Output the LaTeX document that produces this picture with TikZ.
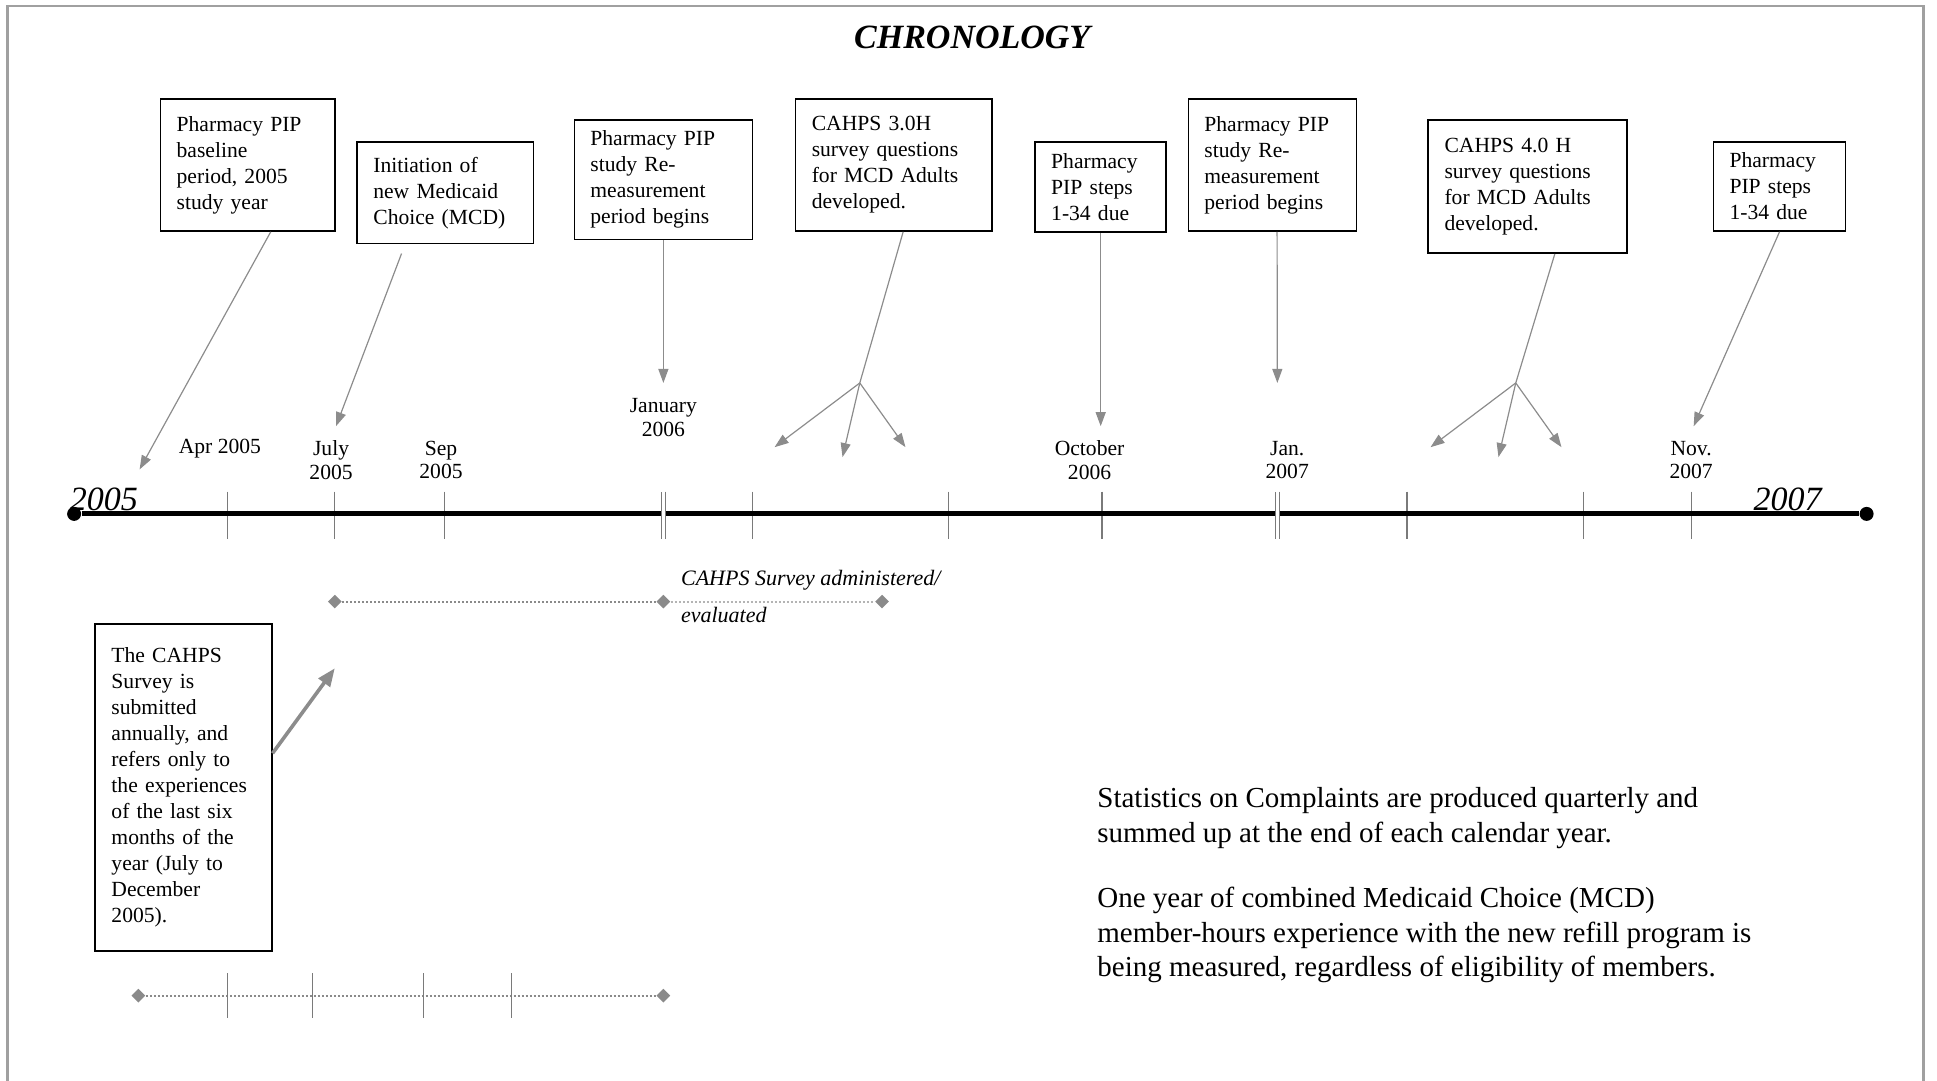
\documentclass[tikz,border=0pt]{standalone}
\usepackage{fontspec}
\setmainfont{Liberation Serif}
\usetikzlibrary{arrows.meta,shapes.geometric}
\definecolor{arw}{HTML}{8C8C8C}
\definecolor{tkc}{HTML}{7A7A7A}
\definecolor{dgray}{HTML}{8A8A8A}
\definecolor{lgray}{HTML}{B4B4B4}
\definecolor{bd}{HTML}{A0A0A0}

\begin{document}
\begin{tikzpicture}[x=0.6177pt, y=-0.6177pt,
    ev/.style={draw, rectangle, line width=0.8pt, align=left, inner xsep=8pt, font=\fontsize{10.8}{13}\selectfont},
    lbl/.style={align=center, inner sep=0pt, font=\fontsize{10.8}{11.7}\selectfont},
    yr/.style={inner sep=0pt, font=\fontsize{17}{17}\selectfont\itshape},
    dot/.style={circle, fill=black, inner sep=0pt, minimum size=7pt},
    dm/.style={diamond, fill=dgray, inner sep=0pt, minimum size=7pt},
    n/.style={-{Triangle[length=7pt, width=5pt]}, line width=0.6pt, draw=arw},
    ln/.style={line width=0.6pt, draw=arw},
    tk/.style={line width=0.6pt, draw=tkc},
    d/.style={densely dotted, line width=1pt, draw=dgray}]
    \useasboundingbox (0,0) rectangle (1568,875);
    \draw[bd, line width=1.2pt] (6,875) -- (6,5) -- (1557,5) -- (1557,875);
    % title
    \node[font=\fontsize{17}{17}\selectfont\bfseries\itshape] (title) at (787,30) {CHRONOLOGY};
    % boxes
    \node[ev, minimum width=87.1pt, minimum height=66.1pt, text width=71pt] (b1) at (200.5,133.5) {Pharmacy PIP\\baseline\\period, 2005\\study year};
    \node[ev, minimum width=88.3pt, minimum height=50.7pt, text width=72pt] (b2) at (360.5,156) {Initiation of\\new Medicaid\\Choice (MCD)};
    \node[ev, minimum width=88.9pt, minimum height=59.9pt, text width=73pt] (b3) at (537,145.5) {Pharmacy PIP\\study Re-\\measurement\\period begins};
    \node[ev, minimum width=98.2pt, minimum height=66.1pt, text width=82pt] (b4) at (723.5,133.5) {CAHPS 3.0H\\survey questions\\for MCD Adults\\developed.};
    \node[ev, minimum width=65.5pt, minimum height=45.1pt, text width=49.5pt] (b5) at (891,151.5) {Pharmacy\\PIP steps\\1-34 due};
    \node[ev, minimum width=84pt, minimum height=66.1pt, text width=68pt] (b6) at (1030,133.5) {Pharmacy PIP\\study Re-\\measurement\\period begins};
    \node[ev, minimum width=99.4pt, minimum height=66.7pt, text width=83pt] (b7) at (1236.5,151) {CAHPS 4.0 H\\survey questions\\for MCD Adults\\developed.};
    \node[ev, minimum width=66.1pt, minimum height=44.5pt, text width=50pt] (b8) at (1440.5,151) {Pharmacy\\PIP steps\\1-34 due};
    \node[ev, minimum width=88.3pt, minimum height=163.7pt, text width=72pt] (b9) at (148.5,637.5) {The CAHPS\\Survey is\\submitted\\annually, and\\refers only to\\the experiences\\of the last six\\months of the\\year (July to\\December\\2005).};
    % dates
    \node[lbl] (apr) at (178,363) {Apr 2005};
    \node[lbl] (jul) at (268,372.5) {July\\2005};
    \node[lbl] (sep) at (357,372.5) {Sep\\2005};
    \node[lbl] (jan6) at (537,338) {January\\2006};
    \node[lbl] (oct) at (882,372.5) {October\\2006};
    \node[lbl] (jan7) at (1042,372.5) {Jan.\\2007};
    \node[lbl] (nov) at (1369,372.5) {Nov.\\2007};
    % axis
    \foreach \t in {184,271,360,609,768,892,1139,1282,1369}
        \draw[tk] (\t,398) -- (\t,436);
    \node[dot] (L) at (60,416) {};
    \node[dot] (R) at (1511,416) {};
    \draw[line width=2.6pt] (L) -- (R);
    \foreach \t in {537,1034}
        \draw[tk, double, double distance=1.2pt] (\t,398) -- (\t,436);
    \node[yr] (y5) at (84,404) {2005};
    \node[yr] (y7) at (1447,404) {2007};
    % arrow ends
    \coordinate (e1) at (113,380);
    \coordinate (e2) at (272,345);
    \coordinate (e3) at (537,310);
    \coordinate (h4) at (696,310);
    \coordinate (e41) at (627,362);
    \coordinate (e42) at (682,370);
    \coordinate (e43) at (733,362);
    \coordinate (e5) at (891,345);
    \coordinate (e6) at (1034,310);
    \coordinate (h7) at (1227,310);
    \coordinate (e71) at (1158,362);
    \coordinate (e72) at (1213,370);
    \coordinate (e73) at (1264,362);
    \coordinate (e8) at (1371,345);
    \coordinate (e9) at (271,541);
    % edges
    \draw[n] (b1.-71) -- (e1);
    \draw[n, shorten <=5pt] (b2.-128) -- (e2);
    \draw[n] (b3.south) -- (e3);
    \draw[ln] (b4.-82) -- (h4);
    \foreach \e in {e41,e42,e43}
        \draw[n] (h4) -- (\e);
    \draw[n] (b5.south) -- (e5);
    \draw[n] (b6.-86) -- (e6);
    \draw[ln] (b7.-68) -- (h7);
    \foreach \e in {e71,e72,e73}
        \draw[n] (h7) -- (\e);
    \draw[n] (b8.south) -- (e8);
    \draw[n, line width=1.8pt, -{Triangle[length=9pt, width=7pt]}] (b9.21) -- (e9);
    % survey period
    \node[dm] (s1) at (271,487) {};
    \node[dm] (s2) at (537,487) {};
    \node[dm] (s3) at (714,487) {};
    \draw[d] (s1) -- (s2);
    \draw[d, draw=lgray] (s2) -- (s3);
    \node[anchor=west, inner sep=0pt, align=left, font=\fontsize{11}{18.5}\selectfont\itshape] (adm) at (551,483) {CAHPS Survey administered/\\evaluated};
    % last six months
    \node[dm] (q1) at (112,806) {};
    \node[dm] (q2) at (537,806) {};
    \draw[d] (q1) -- (q2);
    \foreach \t in {184,253,343,414}
        \draw[tk] (\t,788) -- (\t,824);
    % notes
    \node[anchor=west, inner sep=0pt, align=left, font=\fontsize{14.5}{17.3}\selectfont] (st1) at (888,662) {Statistics on Complaints are produced quarterly and\\summed up at the end of each calendar year.};
    \node[anchor=west, inner sep=0pt, align=left, font=\fontsize{14.5}{17.3}\selectfont] (st2) at (888,757) {One year of combined Medicaid Choice (MCD)\\member-hours experience with the new refill program is\\being measured, regardless of eligibility of members.};
\end{tikzpicture}
\end{document}
